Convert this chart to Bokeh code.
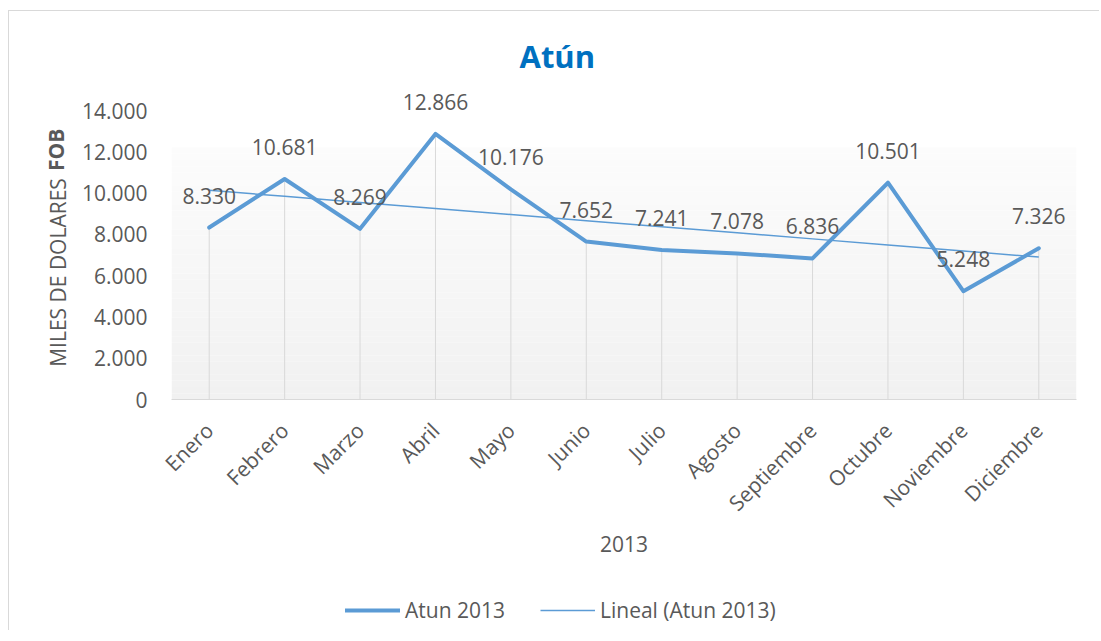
import numpy as np
from bokeh.plotting import figure
from bokeh.layouts import column
from bokeh.models import (ColumnDataSource, FixedTicker, LabelSet, Legend,
                          LegendItem, LinearAxis)
from bokeh.core.properties import value
from bokeh.embed import file_html
from bokeh.resources import INLINE

# ---------------- data ----------------
months = ["Enero", "Febrero", "Marzo", "Abril", "Mayo", "Junio", "Julio",
          "Agosto", "Septiembre", "Octubre", "Noviembre", "Diciembre"]
atun_2013 = [8330, 10681, 8269, 12866, 10176, 7652, 7241, 7078, 6836,
             10501, 5248, 7326]
y_ticks = [0, 2000, 4000, 6000, 8000, 10000, 12000, 14000]
y_tick_labels = ["0", "2.000", "4.000", "6.000", "8.000", "10.000",
                 "12.000", "14.000"]
title_text = "Atún"
x_title = "2013"
y_title_main = "MILES DE DOLARES"
y_title_bold = "FOB"
series_name = "Atun 2013"
trend_name = "Lineal (Atun 2013)"

# ---------------- style / geometry ----------------
FONT = "Open Sans"
FS = "21px"
TXT = "#595959"
BLUE = "#5B9BD5"
GRID = "#d9d9d9"
NBSP = "\u00a0"

OX, OY = 9, 11                 # canvas origin in window px (margin + border)
W = 1090
H = 563                        # main figure height
LH = 56                        # legend strip height
FL, FR, FB = 171, 1076, 399    # frame edges, window px
F14 = 110                      # window y of value 14000
FT = 85                        # frame top (window px)
X0, X1 = -0.5, len(months) - 0.5
px_per_val = (FB - F14) / 14000.0
Y0, Y1 = 0, (FB - FT) / px_per_val


def dy(py):
    return (FB - py) / px_per_val


p = figure(width=W, height=H, x_range=(X0, X1), y_range=(Y0, Y1),
           output_backend="svg", toolbar_location=None,
           min_border_left=FL - OX, min_border_right=OX + W - FR,
           min_border_top=FT - OY, min_border_bottom=H - (FB - OY))
p.outline_line_color = None
p.background_fill_color = "white"
p.border_fill_color = "white"
p.xgrid.visible = False
p.ygrid.visible = False

# title
p.title.text = title_text
p.title.align = "left"
p.title.offset = 348
p.title.text_font = FONT
p.title.text_font_size = "31px"
p.title.text_font_style = "bold"
p.title.text_color = "#0070C0"
p.title.standoff = 17

# plot-area gradient (white -> light gray)
n_bands = 40
g_top = dy(147)
edges = np.linspace(0, g_top, n_bands + 1)
cols = []
for i in range(n_bands):
    t = i / (n_bands - 1)
    c = int(round(241 + t * (252 - 241)))
    cols.append("#%02x%02x%02x" % (c, c, c))
p.quad(left=X0, right=X1, bottom=edges[:-1], top=edges[1:], fill_color=cols,
       line_color=None)

xs = list(range(len(months)))

# drop lines
p.segment(x0=xs, y0=[0] * len(xs), x1=xs, y1=atun_2013, line_color=GRID,
          line_width=1)

# trend line (least squares)
slope, intercept = np.polyfit(xs, atun_2013, 1)
trend = [slope * x + intercept for x in xs]

p.line(xs, trend, line_color=BLUE, line_width=1.5)
p.line(xs, atun_2013, line_color=BLUE, line_width=4,
       line_join="round", line_cap="round")

# data labels
src = ColumnDataSource(dict(x=xs, y=atun_2013,
                            t=[f"{v:,}".replace(",", ".") for v in atun_2013]))
p.add_layout(LabelSet(x="x", y="y", text="t", source=src, y_offset=32,
                      text_align="center", text_baseline="middle",
                      text_font=value(FONT), text_font_size=FS,
                      text_color=TXT))

# x axis
p.xaxis.ticker = FixedTicker(ticks=xs)
p.xaxis.major_label_overrides = {i: m for i, m in enumerate(months)}
p.xaxis.major_label_orientation = np.pi / 4
p.xaxis.major_label_text_font = FONT
p.xaxis.major_label_text_font_size = FS
p.xaxis.major_label_text_color = TXT
p.xaxis.major_tick_out = 0
p.xaxis.major_tick_in = 0
p.xaxis.major_label_standoff = 27
p.xaxis.major_tick_line_color = None
p.xaxis.minor_tick_line_color = None
p.xaxis.axis_line_color = GRID
p.xaxis.axis_label = x_title
p.xaxis.axis_label_text_font = FONT
p.xaxis.axis_label_text_font_size = FS
p.xaxis.axis_label_text_font_style = "normal"
p.xaxis.axis_label_text_color = TXT
p.xaxis.axis_label_standoff = 7

# y axis
p.yaxis.ticker = FixedTicker(ticks=y_ticks)
p.yaxis.bounds = (0, 14000)
p.yaxis.major_label_overrides = {t: l for t, l in zip(y_ticks, y_tick_labels)}
p.yaxis.major_label_text_font = FONT
p.yaxis.major_label_text_font_size = FS
p.yaxis.major_label_text_color = TXT
p.yaxis.major_tick_out = 0
p.yaxis.major_tick_in = 0
p.yaxis.major_label_standoff = 24
p.yaxis.major_tick_line_color = None
p.yaxis.minor_tick_line_color = None
p.yaxis.axis_line_color = None


def title_axis(text, standoff, style):
    ax = LinearAxis(ticker=FixedTicker(ticks=[]), axis_label=text,
                    axis_line_color=None, major_tick_line_color=None,
                    minor_tick_line_color=None, major_tick_out=0,
                    major_tick_in=0, minor_tick_out=0, minor_tick_in=0,
                    major_label_text_font_size="0px",
                    axis_label_standoff=standoff,
                    axis_label_text_font=FONT,
                    axis_label_text_font_size=FS,
                    axis_label_text_font_style=style,
                    axis_label_text_color=TXT)
    p.add_layout(ax, "left")
    return ax


# y axis title: "MILES DE DOLARES" normal + "FOB" bold on one line; the two
# labels share a column and are shifted along it with no-break spaces
title_axis(y_title_main + NBSP * 11, 7, "normal")
title_axis(NBSP * 34 + y_title_bold, -29, "bold")

# ---------------- legend strip ----------------
lf = figure(width=W, height=LH, x_range=(0, W), y_range=(0, LH),
            output_backend="svg", toolbar_location=None,
            min_border=0, min_border_left=0, min_border_right=0,
            min_border_top=0, min_border_bottom=0)
lf.axis.visible = False
lf.grid.visible = False
lf.outline_line_color = None
lf.background_fill_color = "white"
lf.border_fill_color = "white"
# legend-only renderers, kept outside the visible range
lg_main = lf.line(x=[-200, -100], y=[-200, -100], line_color=BLUE,
                  line_width=4, line_cap="round")
lg_trend = lf.line(x=[-200, -100], y=[-200, -100], line_color=BLUE,
                   line_width=1.5)
legend = Legend(items=[LegendItem(label=series_name, renderers=[lg_main]),
                       LegendItem(label=trend_name, renderers=[lg_trend])],
                orientation="horizontal",
                location=(345 - FL, (OY + H + LH) - 623.5),
                padding=0, margin=0, spacing=35, glyph_width=55,
                glyph_height=20, label_standoff=5, border_line_color=None,
                background_fill_alpha=0, label_text_font=FONT,
                label_text_font_size=FS, label_text_color=TXT)
lf.add_layout(legend)

lay = column(p, lf)
lay.styles = {"margin-left": "8px", "margin-top": "10px",
              "border-left": "1px solid #d9d9d9",
              "border-top": "1px solid #d9d9d9"}

open("out.html", "w").write(file_html(lay, INLINE))
